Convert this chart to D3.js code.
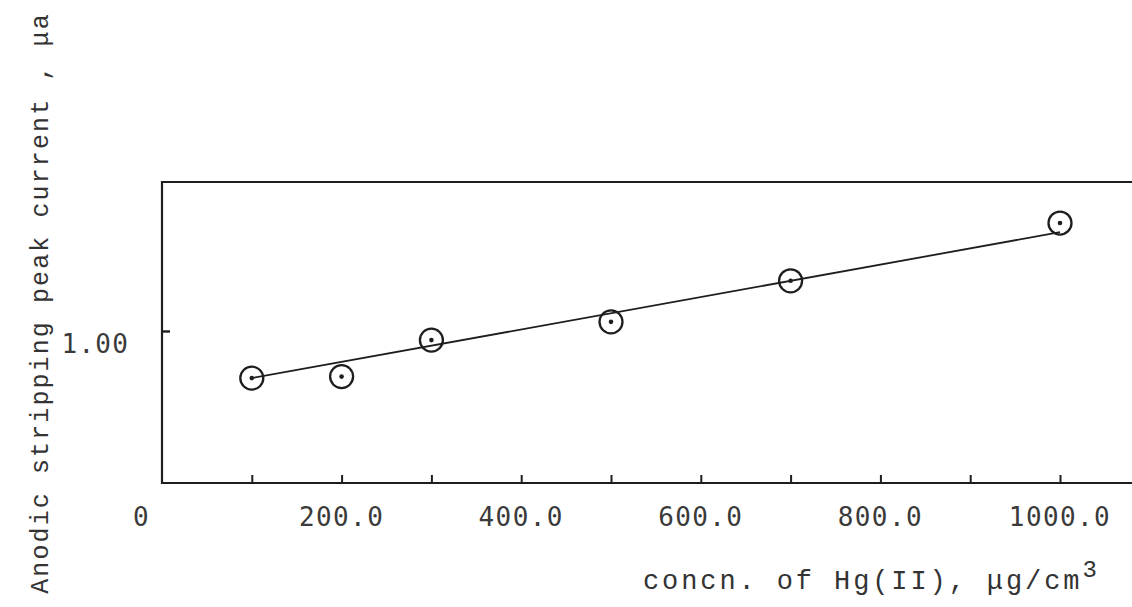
<!DOCTYPE html>
<html>
<head>
<meta charset="utf-8">
<script src="https://cdn.jsdelivr.net/npm/d3@7"></script>
<style>
  body { margin: 0; background: #fff; }
  svg { display: block; }
</style>
</head>
<body>
<svg id="chart" width="1132" height="607"></svg>
<script>
// concentration of Hg(II) (ug/cm3) vs anodic stripping peak current (ua)
var concn = [100, 200, 300, 500, 700, 1000];
var current = [0.69, 0.70, 0.94, 1.06, 1.33, 1.71];

// straight line drawn through the points
var fitConcn = [100, 1000];
var fitCurrent = [0.69, 1.65];

var xTicks = [100, 200, 300, 400, 500, 600, 700, 800, 900, 1000];
var xTickLabels = [0, 200, 400, 600, 800, 1000];
var yTicks = [1.0];

var svg = d3.select("#chart");
var margin = {top: 182, left: 162, bottom: 124};
var height = +svg.attr("height") - margin.top - margin.bottom;
var ink = "#1e1e1e";

var x = d3.scaleLinear()
    .domain([0, 1000])
    .range([0, 898]);

var y = d3.scaleLinear()
    .domain([0, 1.98])
    .range([height, 0]);

var g = svg.append("g")
    .attr("transform", "translate(" + margin.left + "," + margin.top + ")");

var frameRight = +svg.attr("width") - margin.left;

// open frame: left, top and bottom lines
g.append("path")
    .attr("d", "M" + frameRight + ",0H0V" + height + "H" + frameRight)
    .attr("fill", "none")
    .attr("stroke", ink)
    .attr("stroke-width", 2.2);

// x ticks point into the plot
var xAxis = g.append("g")
    .attr("transform", "translate(0," + height + ")")
    .call(d3.axisTop(x).tickValues(xTicks).tickSize(8).tickFormat(""));
xAxis.select(".domain").remove();
xAxis.selectAll("line").attr("stroke", ink).attr("stroke-width", 2);

var yAxis = g.append("g")
    .call(d3.axisRight(y).tickValues(yTicks).tickSize(8).tickFormat(""));
yAxis.select(".domain").remove();
yAxis.selectAll("line").attr("stroke", ink).attr("stroke-width", 2.4);

// typed tick labels
g.append("g").selectAll("text")
    .data(xTickLabels)
    .enter().append("text")
    .attr("x", function(d) { return d === 0 ? x(d) - 12 : x(d); })
    .attr("y", height + 43)
    .attr("text-anchor", function(d) { return d === 0 ? "end" : "middle"; })
    .style("font-family", "'DejaVu Sans Mono', monospace")
    .style("font-size", "26px")
    .style("letter-spacing", "1.4px")
    .attr("fill", "#3a3a3a")
    .text(function(d) { return d === 0 ? "0" : d.toFixed(1); });

g.append("g").selectAll("text")
    .data(yTicks)
    .enter().append("text")
    .attr("x", -33)
    .attr("y", function(d) { return y(d) + 22; })
    .attr("text-anchor", "end")
    .style("font-family", "'DejaVu Sans Mono', monospace")
    .style("font-size", "26px")
    .style("letter-spacing", "1.2px")
    .attr("fill", "#3a3a3a")
    .text(function(d) { return d.toFixed(2); });

// fitted line
var line = d3.line()
    .x(function(d) { return x(d[0]); })
    .y(function(d) { return y(d[1]); });

g.append("path")
    .datum(d3.zip(fitConcn, fitCurrent))
    .attr("d", line)
    .attr("fill", "none")
    .attr("stroke", ink)
    .attr("stroke-width", 1.8);

// circled points
var pts = g.append("g").selectAll("g")
    .data(d3.zip(concn, current))
    .enter().append("g")
    .attr("transform", function(d) { return "translate(" + x(d[0]) + "," + y(d[1]) + ")"; });

pts.append("circle")
    .attr("r", 11.5)
    .attr("fill", "none")
    .attr("stroke", ink)
    .attr("stroke-width", 2.3);

pts.append("circle")
    .attr("r", 2.3)
    .attr("fill", ink);

// axis titles
svg.append("text")
    .attr("transform", "translate(48,303)rotate(-90)")
    .attr("text-anchor", "middle")
    .style("font-family", "'Liberation Mono', monospace")
    .style("font-size", "25px")
    .style("letter-spacing", "2.1px")
    .attr("fill", "#333")
    .text("Anodic stripping peak current , \u03bca");

var xTitle = svg.append("text")
    .attr("x", 643)
    .attr("y", 589)
    .style("font-family", "'Liberation Mono', monospace")
    .style("font-size", "27px")
    .style("letter-spacing", "2.9px")
    .attr("fill", "#333");
xTitle.append("tspan").text("concn. of Hg(II), \u03bcg/cm");
xTitle.append("tspan")
    .attr("dy", -12)
    .style("font-size", "24px")
    .text("3");
</script>
</body>
</html>
